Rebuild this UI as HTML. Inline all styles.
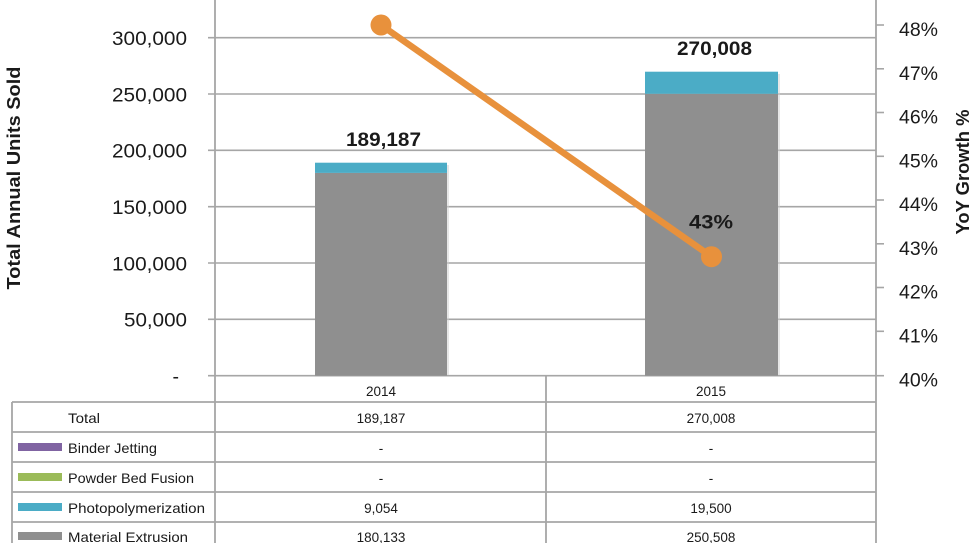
<!DOCTYPE html>
<html><head><meta charset="utf-8"><style>
html,body{margin:0;padding:0;background:#fff;}
svg{display:block;}
text{font-family:"Liberation Sans",sans-serif;fill:#1a1a1a;}
</style></head><body>
<svg width="970" height="543" viewBox="0 0 970 543" xmlns="http://www.w3.org/2000/svg">
<rect width="970" height="543" fill="#fff"/>
<!-- gridlines -->
<g stroke="#a6a6a6" stroke-width="1.6">
<line x1="208" y1="37.7" x2="876" y2="37.7"/>
<line x1="208" y1="94" x2="876" y2="94"/>
<line x1="208" y1="150.3" x2="876" y2="150.3"/>
<line x1="208" y1="206.7" x2="876" y2="206.7"/>
<line x1="208" y1="263" x2="876" y2="263"/>
<line x1="208" y1="319.3" x2="876" y2="319.3"/>
<line x1="208" y1="375.7" x2="876" y2="375.7"/>
<!-- right ticks -->
<line x1="876" y1="25" x2="884" y2="25"/>
<line x1="876" y1="68.8" x2="884" y2="68.8"/>
<line x1="876" y1="112.5" x2="884" y2="112.5"/>
<line x1="876" y1="156.3" x2="884" y2="156.3"/>
<line x1="876" y1="200" x2="884" y2="200"/>
<line x1="876" y1="243.8" x2="884" y2="243.8"/>
<line x1="876" y1="287.5" x2="884" y2="287.5"/>
<line x1="876" y1="331.3" x2="884" y2="331.3"/>
<line x1="876" y1="375.7" x2="884" y2="375.7"/>
</g>
<!-- bars -->
<rect x="317" y="165" width="132" height="210" fill="#cfcfcf" opacity="0.5"/>
<rect x="315" y="172.9" width="132" height="202.8" fill="#8f8f8f"/>
<rect x="315" y="162.7" width="132" height="10.2" fill="#4bacc6"/>
<rect x="647" y="74" width="133" height="301" fill="#cfcfcf" opacity="0.5"/>
<rect x="645" y="93.8" width="133" height="281.9" fill="#8f8f8f"/>
<rect x="645" y="71.7" width="133" height="22.1" fill="#4bacc6"/>
<!-- axis lines -->
<g stroke="#a6a6a6" stroke-width="1.8">
<line x1="215" y1="0" x2="215" y2="543"/>
<line x1="876" y1="0" x2="876" y2="543"/>
<line x1="546" y1="375.7" x2="546" y2="543"/>
<line x1="12" y1="402" x2="876" y2="402"/>
<line x1="12" y1="432" x2="876" y2="432"/>
<line x1="12" y1="462" x2="876" y2="462"/>
<line x1="12" y1="492" x2="876" y2="492"/>
<line x1="12" y1="522" x2="876" y2="522"/>
<line x1="12" y1="402" x2="12" y2="543"/>
</g>
<!-- line series -->
<line x1="381" y1="25" x2="711.5" y2="256.7" stroke="#e8913c" stroke-width="6.5" stroke-linecap="round"/>
<circle cx="381" cy="25" r="10.5" fill="#e8913c"/>
<circle cx="711.5" cy="256.7" r="10.5" fill="#e8913c"/>
<!-- left tick labels -->
<g font-size="19.5" text-anchor="end">
<text x="187" y="45" textLength="75" lengthAdjust="spacingAndGlyphs">300,000</text>
<text x="187" y="101.3" textLength="75" lengthAdjust="spacingAndGlyphs">250,000</text>
<text x="187" y="157.6" textLength="75" lengthAdjust="spacingAndGlyphs">200,000</text>
<text x="187" y="214" textLength="75" lengthAdjust="spacingAndGlyphs">150,000</text>
<text x="187" y="270.3" textLength="75" lengthAdjust="spacingAndGlyphs">100,000</text>
<text x="187" y="326.6" textLength="63" lengthAdjust="spacingAndGlyphs">50,000</text>
<text x="179" y="383">-</text>
</g>
<!-- right tick labels -->
<g font-size="19.5">
<text x="899" y="36" textLength="39" lengthAdjust="spacingAndGlyphs">48%</text>
<text x="899" y="79.8" textLength="39" lengthAdjust="spacingAndGlyphs">47%</text>
<text x="899" y="123.5" textLength="39" lengthAdjust="spacingAndGlyphs">46%</text>
<text x="899" y="167.3" textLength="39" lengthAdjust="spacingAndGlyphs">45%</text>
<text x="899" y="211" textLength="39" lengthAdjust="spacingAndGlyphs">44%</text>
<text x="899" y="254.8" textLength="39" lengthAdjust="spacingAndGlyphs">43%</text>
<text x="899" y="298.5" textLength="39" lengthAdjust="spacingAndGlyphs">42%</text>
<text x="899" y="342.3" textLength="39" lengthAdjust="spacingAndGlyphs">41%</text>
<text x="899" y="386.7" textLength="39" lengthAdjust="spacingAndGlyphs">40%</text>
</g>
<!-- axis titles -->
<text transform="translate(20,178) rotate(-90)" font-size="18.5" font-weight="bold" text-anchor="middle" textLength="223" lengthAdjust="spacingAndGlyphs">Total Annual Units Sold</text>
<text transform="translate(969,172) rotate(-90)" font-size="18" font-weight="bold" text-anchor="middle" textLength="125" lengthAdjust="spacingAndGlyphs">YoY Growth %</text>
<!-- data labels -->
<text x="346" y="146" font-size="19" font-weight="bold" textLength="75" lengthAdjust="spacingAndGlyphs">189,187</text>
<text x="677" y="55" font-size="19" font-weight="bold" textLength="75" lengthAdjust="spacingAndGlyphs">270,008</text>
<text x="689" y="228.5" font-size="19" font-weight="bold" textLength="44" lengthAdjust="spacingAndGlyphs">43%</text>
<!-- category labels -->
<g font-size="13.5" text-anchor="middle">
<text x="381" y="396">2014</text>
<text x="711" y="396">2015</text>
<text x="381" y="423">189,187</text>
<text x="711" y="423">270,008</text>
<text x="381" y="453">-</text>
<text x="711" y="453">-</text>
<text x="381" y="483">-</text>
<text x="711" y="483">-</text>
<text x="381" y="513">9,054</text>
<text x="711" y="513">19,500</text>
<text x="381" y="542">180,133</text>
<text x="711" y="542">250,508</text>
</g>
<!-- row labels -->
<g font-size="14">
<text x="68" y="423" textLength="32" lengthAdjust="spacingAndGlyphs">Total</text>
<text x="68" y="453" textLength="89" lengthAdjust="spacingAndGlyphs">Binder Jetting</text>
<text x="68" y="483" textLength="126" lengthAdjust="spacingAndGlyphs">Powder Bed Fusion</text>
<text x="68" y="513" textLength="137" lengthAdjust="spacingAndGlyphs">Photopolymerization</text>
<text x="68" y="542" textLength="120" lengthAdjust="spacingAndGlyphs">Material Extrusion</text>
</g>
<!-- legend keys -->
<rect x="18" y="443" width="44" height="8" fill="#8064a2"/>
<rect x="18" y="473" width="44" height="8" fill="#9bbb59"/>
<rect x="18" y="503" width="44" height="8" fill="#4bacc6"/>
<rect x="18" y="532" width="44" height="8" fill="#8f8f8f"/>
</svg>
</body></html>
